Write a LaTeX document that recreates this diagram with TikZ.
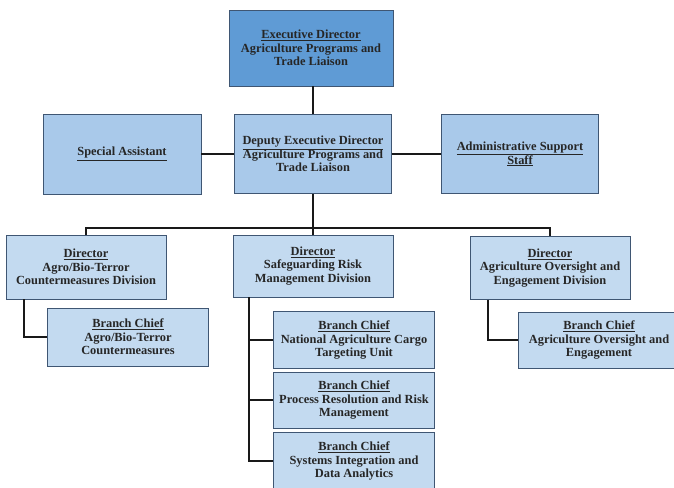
\documentclass[tikz,border=0pt]{standalone}
\usepackage{fontspec}
\setmainfont{Liberation Serif}
\definecolor{execblue}{HTML}{5F9BD5}
\definecolor{midblue}{HTML}{A9C9EA}
\definecolor{paleblue}{HTML}{C3DAF0}
\definecolor{edgeblue}{HTML}{3F5673}
\begin{document}
\begin{tikzpicture}[x=1pt,y=-1pt,
  box/.style={draw=edgeblue,line width=0.8pt,align=center,inner sep=2pt,
    font=\bfseries\fontsize{12.4}{13.6}\selectfont,text=black!85},
  tie/.style={line width=1.7pt,black!90}]
\useasboundingbox[fill=white] (0,0) rectangle (674,487);
\node[box,fill=execblue,minimum width=164pt,minimum height=76pt] (exec) at (311,48)
  {\underline{Executive Director}\\Agriculture Programs and\\Trade Liaison};
\node[box,fill=midblue,minimum width=157pt,minimum height=79pt] (deputy) at (313,154)
  {\underline{Deputy Executive Director}\\Agriculture Programs and\\Trade Liaison};
\node[box,fill=midblue,minimum width=158pt,minimum height=80pt] (special) at (122,154)
  {\underline{Special Assistant}};
\node[box,fill=midblue,minimum width=157pt,minimum height=79pt] (admin) at (520,154)
  {\underline{Administrative Support}\\\underline{Staff}};
\node[box,fill=paleblue,minimum width=160pt,minimum height=64pt] (dirAgro) at (86,267)
  {\underline{Director}\\Agro/Bio-Terror\\Countermeasures Division};
\node[box,fill=paleblue,minimum width=160pt,minimum height=62pt] (dirRisk) at (313,266)
  {\underline{Director}\\Safeguarding Risk\\Management Division};
\node[box,fill=paleblue,minimum width=160pt,minimum height=63pt] (dirOver) at (550,268)
  {\underline{Director}\\Agriculture Oversight and\\Engagement Division};
\node[box,fill=paleblue,minimum width=161pt,minimum height=58pt] (chiefAgro) at (128,337)
  {\underline{Branch Chief}\\Agro/Bio-Terror\\Countermeasures};
\node[box,fill=paleblue,minimum width=161pt,minimum height=57pt] (chiefCargo) at (354,340)
  {\underline{Branch Chief}\\National Agriculture Cargo\\Targeting Unit};
\node[box,fill=paleblue,minimum width=161pt,minimum height=56pt] (chiefProc) at (354,400)
  {\underline{Branch Chief}\\Process Resolution and Risk\\Management};
\node[box,fill=paleblue,minimum width=161pt,minimum height=58pt] (chiefSys) at (354,461)
  {\underline{Branch Chief}\\Systems Integration and\\Data Analytics};
\node[box,fill=paleblue,minimum width=161pt,minimum height=56pt] (chiefOver) at (599,340)
  {\underline{Branch Chief}\\Agriculture Oversight and\\Engagement};
\coordinate (bus) at (313,228);
\coordinate (trunkAgro) at ([xshift=-62pt]dirAgro.south);
\coordinate (trunkRisk) at ([xshift=-64pt]dirRisk.south);
\coordinate (trunkOver) at ([xshift=-62pt]dirOver.south);
\draw[tie] (exec.south -| deputy.north) -- (deputy.north);
\draw[tie] (special.east) -- (deputy.west);
\draw[tie] (deputy.east) -- (admin.west);
\draw[tie] (deputy.south) -- (dirRisk.north);
\draw[tie] (dirAgro.north) |- (bus) -| (dirOver.north);
\draw[tie] (trunkAgro) |- (chiefAgro.west);
\draw[tie] (trunkRisk) |- (chiefSys.west);
\draw[tie] (chiefCargo.west) -- (chiefCargo.west -| trunkRisk);
\draw[tie] (chiefProc.west) -- (chiefProc.west -| trunkRisk);
\draw[tie] (trunkOver) |- (chiefOver.west);
\end{tikzpicture}
\end{document}
